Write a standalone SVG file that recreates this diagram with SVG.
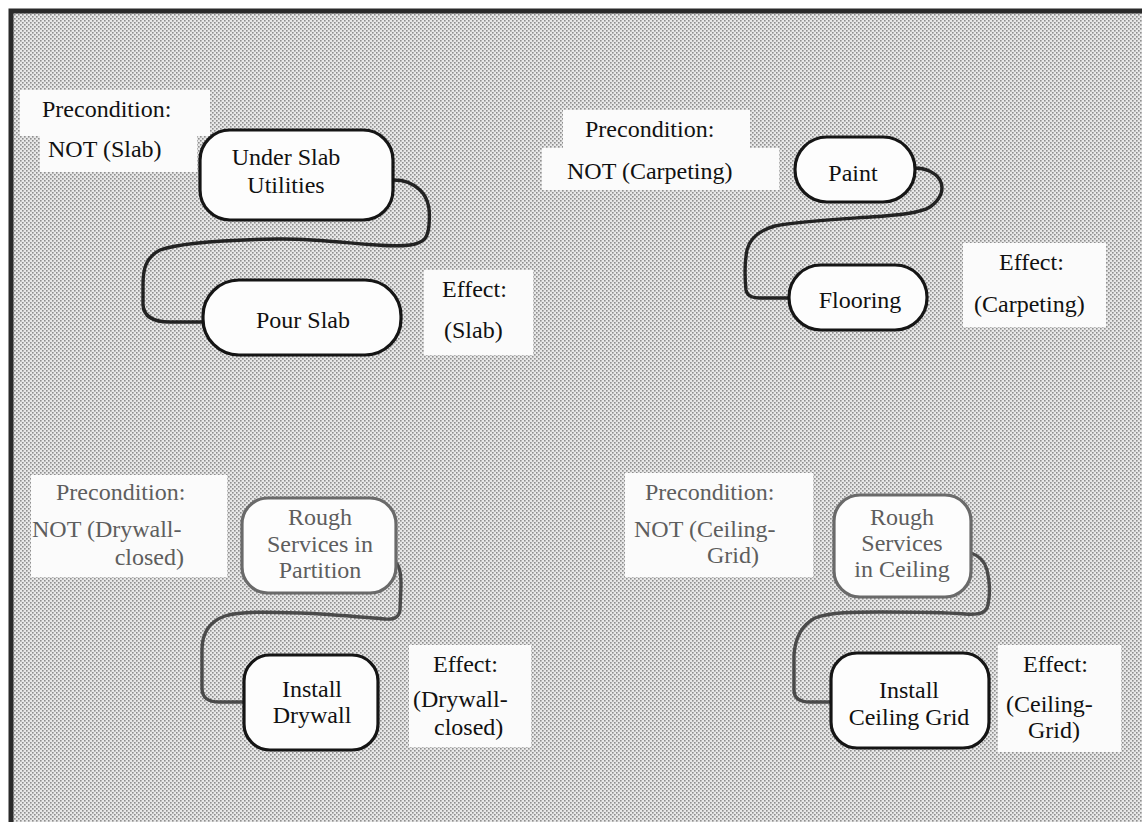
<svg xmlns="http://www.w3.org/2000/svg" width="1142" height="822" viewBox="0 0 1142 822" font-family="'Liberation Serif','DejaVu Serif','Times New Roman',serif">
<defs>
<pattern id="ht" width="4" height="4" patternUnits="userSpaceOnUse">
<rect width="4" height="4" fill="#e8e8e8"/>
<rect x="0" y="0" width="1.6" height="1.6" fill="#8e8e8e"/>
<rect x="2" y="2" width="1.6" height="1.6" fill="#8e8e8e"/>
</pattern>
</defs>
<style>
text{font-family:'Liberation Serif','DejaVu Serif','Times New Roman',serif;font-size:24px;fill:#111}
.lab{fill:#fbfbfb}
.node{fill:#fdfdfd;stroke:#151515;stroke-width:3.2}
.node.g{stroke:#6a6a6a}
.gt{fill:#5e5e5e}
.c{text-anchor:middle}
.conn{fill:none;stroke:#222;stroke-width:3.4;stroke-linejoin:round;stroke-linecap:round}
.conn.g{stroke:#4a4a4a}
</style>
<rect width="1142" height="822" fill="#ffffff"/>
<rect x="11" y="11" width="1131" height="811" fill="url(#ht)"/>
<path d="M11,822 L11,11 L1142,11" fill="none" stroke="#2a2a2a" stroke-width="5"/>

<g id="connectors">
<path class="conn" d="M393,180 C405,180 412,183 420,190 C430,200 430,212 429,225 C428,238 424,243 410,245 C380,249 330,238 277,239 C220,240 180,243 160,250 C145,258 143,270 143,285 L143,305 C144,318 155,322 170,322 L203,322"/>
<path class="conn" d="M915,168 C925,168 935,172 940,180 C945,190 940,200 930,207 C920,213 900,215 870,217 C840,219 800,221 775,226 C760,230 750,238 747,250 C744,265 745,280 746,290 C747,296 752,298 760,298 L789,298"/>
<path class="conn g" d="M396,563 C400,566 401,575 401,585 L400,610 C399,617 395,620 385,619 C360,617 330,614 300,613 C270,612 240,611 225,616 C208,622 202,635 202,650 L202,688 C202,698 208,702 220,702 L244,702"/>
<path class="conn g" d="M971,553 C980,556 985,562 987,570 C990,582 990,595 988,605 C986,613 980,615 965,614 C940,612 910,612 880,612 C855,612 830,612 815,618 C800,626 795,640 794,655 L794,690 C794,698 800,702 810,702 L831,702"/>
</g>

<g id="pre-slab">
<rect class="lab" x="20" y="90" width="190" height="46"/>
<rect class="lab" x="40" y="134" width="157" height="38"/>
<text x="42" y="117">Precondition:</text>
<text x="48" y="157">NOT (Slab)</text>
</g>
<g id="under-slab-utilities">
<rect class="node" x="200" y="130" width="193" height="90" rx="30"/>
<text class="c" x="286" y="165">Under Slab</text>
<text class="c" x="286" y="193">Utilities</text>
</g>
<g id="pour-slab">
<rect class="node" x="203" y="280" width="198" height="75" rx="36"/>
<text class="c" x="303" y="328">Pour Slab</text>
</g>
<g id="eff-slab">
<rect class="lab" x="424" y="270" width="109" height="85"/>
<text x="442" y="297">Effect:</text>
<text x="444" y="338">(Slab)</text>
</g>

<g id="pre-carpeting">
<rect class="lab" x="563" y="110" width="187" height="40"/>
<rect class="lab" x="542" y="148" width="237" height="42"/>
<text x="585" y="137">Precondition:</text>
<text x="567" y="179">NOT (Carpeting)</text>
</g>
<g id="paint">
<rect class="node" x="795" y="137" width="120" height="65" rx="32"/>
<text class="c" x="853" y="181">Paint</text>
</g>
<g id="flooring">
<rect class="node" x="789" y="265" width="138" height="65" rx="32"/>
<text class="c" x="860" y="308">Flooring</text>
</g>
<g id="eff-carpeting">
<rect class="lab" x="963" y="243" width="143" height="84"/>
<text x="999" y="270">Effect:</text>
<text x="974" y="312">(Carpeting)</text>
</g>

<g id="pre-drywall">
<rect class="lab" x="31" y="475" width="196" height="102"/>
<text class="gt" x="56" y="500">Precondition:</text>
<text class="gt" x="32" y="537">NOT (Drywall-</text>
<text class="gt" x="184" y="565" text-anchor="end">closed)</text>
</g>
<g id="rough-services-partition">
<rect class="node g" x="242" y="498" width="154" height="95" rx="26"/>
<text class="c gt" x="320" y="525">Rough</text>
<text class="c gt" x="320" y="552">Services in</text>
<text class="c gt" x="320" y="578">Partition</text>
</g>
<g id="install-drywall">
<rect class="node" x="244" y="655" width="134" height="95" rx="26"/>
<text class="c" x="312" y="697">Install</text>
<text class="c" x="312" y="723">Drywall</text>
</g>
<g id="eff-drywall">
<rect class="lab" x="409" y="645" width="122" height="102"/>
<text x="433" y="672">Effect:</text>
<text x="413" y="707">(Drywall-</text>
<text x="434" y="735">closed)</text>
</g>

<g id="pre-ceiling">
<rect class="lab" x="625" y="473" width="188" height="104"/>
<text class="gt" x="645" y="500">Precondition:</text>
<text class="gt" x="634" y="537">NOT (Ceiling-</text>
<text class="gt" x="759" y="563" text-anchor="end">Grid)</text>
</g>
<g id="rough-services-ceiling">
<rect class="node g" x="834" y="495" width="137" height="102" rx="26"/>
<text class="c gt" x="902" y="525">Rough</text>
<text class="c gt" x="902" y="551">Services</text>
<text class="c gt" x="902" y="577">in Ceiling</text>
</g>
<g id="install-ceiling-grid">
<rect class="node" x="831" y="653" width="158" height="95" rx="26"/>
<text class="c" x="909" y="698">Install</text>
<text class="c" x="909" y="725">Ceiling Grid</text>
</g>
<g id="eff-ceiling">
<rect class="lab" x="998" y="645" width="123" height="107"/>
<text x="1023" y="672">Effect:</text>
<text x="1006" y="712">(Ceiling-</text>
<text x="1028" y="738">Grid)</text>
</g>
</svg>
